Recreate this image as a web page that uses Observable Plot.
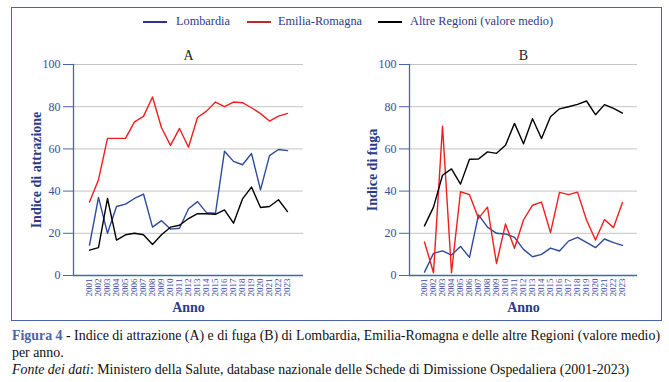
<!DOCTYPE html>
<html>
<head>
<meta charset="utf-8">
<script src="https://cdn.jsdelivr.net/npm/d3@7"></script>
<script src="https://cdn.jsdelivr.net/npm/@observablehq/plot@0.6"></script>
<style>
  body { margin: 0; background: #fff; }
  #wrap { position: relative; width: 669px; height: 382px; font-family: "Liberation Serif", "DejaVu Serif", serif; overflow: hidden; }
  #border { position: absolute; left: 11px; top: 7px; width: 649px; height: 312px; border: 1.3px solid #4a63ad; }
  .chart { position: absolute; top: 0; }
  .leg { position: absolute; top: 14px; font-size: 12.3px; color: #2e3a87; white-space: nowrap; }
  .sw { position: absolute; top: 21px; height: 2px; width: 24px; }
  #caption { position: absolute; left: 12px; top: 327px; font-size: 13.9px; line-height: 17px; color: #111; width: 656px; }
  #caption .fig { color: #4f63a8; font-weight: bold; }
</style>
</head>
<body>
<div id="wrap">
  <div id="border"></div>
  <div id="chartA" class="chart" style="left:0px"></div>
  <div id="chartB" class="chart" style="left:335px"></div>
  <div id="legend"></div>
  <div id="caption"><span class="fig">Figura 4</span> - Indice di attrazione (A) e di fuga (B) di Lombardia, Emilia-Romagna e delle altre Regioni (valore medio) per anno.<br><i>Fonte dei dati</i>: Ministero della Salute, database nazionale delle Schede di Dimissione Ospedaliera (2001-2023)</div>
</div>
<script>
const years = ["2001","2002","2003","2004","2005","2006","2007","2008","2009","2010","2011","2012","2013","2014","2015","2016","2017","2018","2019","2020","2021","2022","2023"];
const seriesNames = ["Lombardia", "Emilia-Romagna", "Altre Regioni (valore medio)"];
const yTicks = [0, 20, 40, 60, 80, 100];

// A - Indice di attrazione
const attrLombardia = [14.4,37,20,32.7,33.8,36.5,38.6,22.9,26,22,22.4,31.6,35,29.8,29.5,58.9,54.1,52.5,57.8,40.6,56.8,59.7,59.2];
const attrEmilia    = [34.8,45.4,65,65,65,72.8,75.4,84.6,70,61.7,69.7,60.8,74.9,77.9,82.2,80,82.2,81.9,79.5,76.7,73.2,75.5,76.8];
const attrAltre     = [12,13.2,36.5,16.8,19.3,20,19.3,14.7,19.3,22.9,23.8,27,29.3,29.3,29,31.1,24.8,36.3,41.9,32.2,32.7,35.9,30.3];

// B - Indice di fuga
const fugaLombardia = [1.6,10.5,11.7,9.7,13.8,8.6,28.7,22.9,20,19.7,18.1,12.4,8.9,10,13,11.6,16.3,18.1,15.7,13.2,17.3,15.6,14.3];
const fugaEmilia    = [15.9,1.3,70.8,1.3,39.7,38.3,27.1,32.4,5.7,24.4,12.9,26.3,33.3,34.8,20.3,39.4,38.3,39.5,26.3,16.8,26.5,22.7,34.6];
const fugaAltre     = [23.5,32.4,47.5,50.5,43.3,55.1,55.2,58.6,57.9,61.7,72.1,62.4,74.3,64.9,75.2,79,80,81.1,82.7,76.2,81,79.2,77];

const lineColors = ["#2e4a9e", "#f01e1e", "#000000"];
const legendColors = ["#2e3192", "#c1272d", "#000000"];
const axisBlue = "#4a63ad";
const labelBlue = "#3b4a9c";
const navy = "#2e3a87";
const serifFont = "'Liberation Serif', 'DejaVu Serif', serif";

function table(arrs) {
  const rows = [];
  arrs.forEach((arr, s) => arr.forEach((v, i) => rows.push({year: years[i], value: v, series: seriesNames[s]})));
  return rows;
}

function panel(rows, title, ylabel, width, marginLeft, marginRight, padding) {
  return Plot.plot({
    width, height: 320,
    marginTop: 64, marginBottom: 45, marginLeft, marginRight,
    style: {fontFamily: serifFont, background: "transparent", overflow: "visible"},
    x: {type: "point", domain: years, padding},
    y: {domain: [0, 100]},
    color: {domain: seriesNames, range: lineColors},
    marks: [
      Plot.gridY([20, 40, 60, 80, 100], {stroke: "#c4c4c4", strokeOpacity: 1, strokeWidth: 1}),
      Plot.frame({anchor: "left", stroke: axisBlue, strokeWidth: 1.3}),
      Plot.ruleY([0], {stroke: axisBlue, strokeWidth: 1.3}),
      Plot.axisY(yTicks, {tickSize: 10, tickPadding: 3, fontSize: 12, color: labelBlue, stroke: axisBlue, label: null}),
      Plot.axisX({tickSize: 0, tickRotate: -90, tickPadding: 3, fontSize: 9, color: labelBlue, label: null}),
      Plot.line(rows, {x: "year", y: "value", stroke: "series", z: "series", strokeWidth: 1.4}),
      Plot.text([title], {frameAnchor: "top", dy: -14, fontSize: 14, fill: "#222"}),
      Plot.text([ylabel], {frameAnchor: "left", rotate: -90, dx: -37, textAnchor: "middle", lineAnchor: "middle", fontSize: 14, fontWeight: "bold", fill: navy}),
      Plot.text(["Anno"], {frameAnchor: "bottom", dy: 36, textAnchor: "middle", fontSize: 14, fontWeight: "bold", fill: navy})
    ]
  });
}

document.getElementById("chartA").append(
  panel(table([attrLombardia, attrEmilia, attrAltre]), "A", "Indice di attrazione", 335, 73, 32, 0.88)
);
document.getElementById("chartB").append(
  panel(table([fugaLombardia, fugaEmilia, fugaAltre]), "B", "Indice di fuga", 334, 74, 32, 0.86)
);

// Legend
const legendPos = [[143, 176], [247, 278], [378, 410]];
const legend = document.getElementById("legend");
seriesNames.forEach((name, i) => {
  const sw = document.createElement("div");
  sw.className = "sw";
  sw.style.left = legendPos[i][0] + "px";
  sw.style.background = legendColors[i];
  legend.append(sw);
  const t = document.createElement("div");
  t.className = "leg";
  t.style.left = legendPos[i][1] + "px";
  t.textContent = name;
  legend.append(t);
});
</script>
</body>
</html>
